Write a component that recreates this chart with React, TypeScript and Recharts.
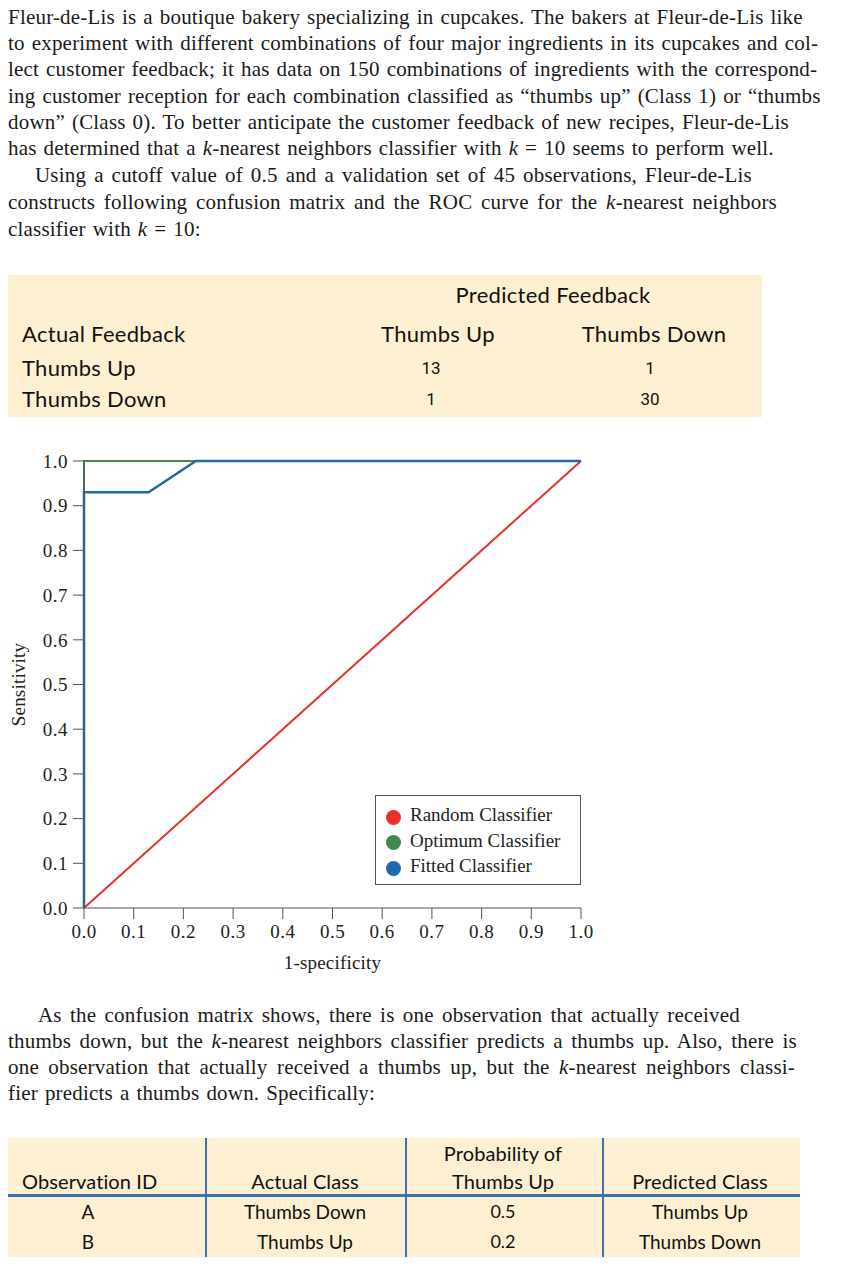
import React from 'react'
import { LineChart, Line, XAxis, YAxis, Legend } from 'recharts'

// ROC curves (x = 1-specificity, y = sensitivity)
const randomX = [0, 1]
const randomY = [0, 1]
const optimumX = [0, 0, 1]
const optimumY = [0, 1, 1]
const fittedX = [0, 0, 0.13, 0.225, 1]
const fittedY = [0, 0.93, 0.93, 1, 1]
const axisTicks = [0, 0.1, 0.2, 0.3, 0.4, 0.5, 0.6, 0.7, 0.8, 0.9, 1]
const legendOrder = ['Random Classifier', 'Optimum Classifier', 'Fitted Classifier']

const toPoints = (xs: number[], ys: number[]) => xs.map((x, i) => ({ x, y: ys[i] }))

// confusion matrix
const matrixCols = ['Thumbs Up', 'Thumbs Down']
const matrixRows = ['Thumbs Up', 'Thumbs Down']
const matrixValues = [
  [13, 1],
  [1, 30],
]

// misclassified observations
const obsIds = ['A', 'B']
const obsActual = ['Thumbs Down', 'Thumbs Up']
const obsProb = ['0.5', '0.2']
const obsPredicted = ['Thumbs Up', 'Thumbs Down']

const SERIF = '"Liberation Serif", "Times New Roman", serif'
const SANS = 'Lato, "Open Sans", sans-serif'
const CREAM = '#fdf0d2'
const RULE = '#3a74b0'

const k = <i>k</i>

// [left, right, centerY, justify, content]
const introLines: [number, number, number, boolean, React.ReactNode][] = [
  [8, 781, 17, true, <>Fleur-de-Lis is a boutique bakery specializing in cupcakes. The bakers at Fleur-de-Lis like</>],
  [8, 797, 43, true, <>to experiment with different combinations of four major ingredients in its cupcakes and col-</>],
  [8, 800, 69, true, <>lect customer feedback; it has data on 150 combinations of ingredients with the correspond-</>],
  [8, 799, 96, true, <>ing customer reception for each combination classified as “thumbs up” (Class 1) or “thumbs</>],
  [8, 767, 122, true, <>down” (Class 0). To better anticipate the customer feedback of new recipes, Fleur-de-Lis</>],
  [8, 758, 148, true, <>has determined that a {k}-nearest neighbors classifier with {k} = 10 seems to perform well.</>],
  [35, 752, 175, true, <>Using a cutoff value of 0.5 and a validation set of 45 observations, Fleur-de-Lis</>],
  [8, 777, 202, true, <>constructs following confusion matrix and the ROC curve for the {k}-nearest neighbors</>],
  [8, 0, 229, false, <>classifier with {k} = 10:</>],
]

const afterLines: [number, number, number, boolean, React.ReactNode][] = [
  [38, 740, 1015, true, <>As the confusion matrix shows, there is one observation that actually received</>],
  [8, 797, 1041, true, <>thumbs down, but the {k}-nearest neighbors classifier predicts a thumbs up. Also, there is</>],
  [8, 795, 1067, true, <>one observation that actually received a thumbs up, but the {k}-nearest neighbors classi-</>],
  [8, 0, 1093, false, <>fier predicts a thumbs down. Specifically:</>],
]

function TextLine({ line }: { line: [number, number, number, boolean, React.ReactNode] }) {
  const [left, right, cy, justify, content] = line
  return (
    <div
      style={{
        position: 'absolute',
        left,
        top: cy,
        transform: 'translateY(-50%)',
        width: justify ? right - left : undefined,
        whiteSpace: 'nowrap',
        fontFamily: SERIF,
        fontSize: 21,
        letterSpacing: 0.2,
        wordSpacing: 1.5,
        lineHeight: '21px',
        color: '#1a1a1a',
        textAlign: 'justify',
        textAlignLast: justify ? 'justify' : 'left',
      }}
    >
      {content}
    </div>
  )
}

function Cell({
  x,
  y,
  center,
  size = 22,
  children,
  family = SANS,
  spacing = 0.3,
}: {
  x: number
  y: number
  center?: boolean
  size?: number
  children: React.ReactNode
  family?: string
  spacing?: number
}) {
  return (
    <div
      style={{
        position: 'absolute',
        left: x,
        top: y,
        transform: center ? 'translate(-50%, -50%)' : 'translateY(-50%)',
        fontFamily: family,
        fontSize: size,
        letterSpacing: spacing,
        lineHeight: 1,
        whiteSpace: 'nowrap',
        color: '#111',
      }}
    >
      {children}
    </div>
  )
}

function ConfusionMatrix() {
  const colX = [438, 654]
  const numX = [431, 650]
  const rowY = [368, 399]
  return (
    <>
      <div style={{ position: 'absolute', left: 8, top: 275, width: 754, height: 142, background: CREAM }} />
      <Cell x={553} y={295} center>Predicted Feedback</Cell>
      <Cell x={22} y={334}>Actual Feedback</Cell>
      {matrixCols.map((c, i) => (
        <Cell key={c} x={colX[i]} y={334} center>
          {c}
        </Cell>
      ))}
      {matrixRows.map((r, ri) => (
        <React.Fragment key={r}>
          <Cell x={22} y={rowY[ri]}>{r}</Cell>
          {matrixValues[ri].map((v, ci) => (
            <Cell key={ci} x={numX[ci]} y={rowY[ri]} center size={17} spacing={0} family="Roboto, sans-serif">
              {v}
            </Cell>
          ))}
        </React.Fragment>
      ))}
    </>
  )
}

function ObservationTable() {
  const rowY = [1211, 1241]
  const cols = [88, 305, 503, 700]
  return (
    <>
      <div style={{ position: 'absolute', left: 8, top: 1138, width: 792, height: 119, background: CREAM }} />
      {[206, 406, 603].map((x) => (
        <div key={x} style={{ position: 'absolute', left: x - 1, top: 1138, width: 2, height: 119, background: RULE }} />
      ))}
      <div style={{ position: 'absolute', left: 8, top: 1194, width: 792, height: 3, background: RULE }} />
      <Cell x={22} y={1181} size={20} spacing={0.1}>Observation ID</Cell>
      <Cell x={cols[1]} y={1181} size={20} spacing={0.1} center>Actual Class</Cell>
      <Cell x={cols[2]} y={1153} size={20} spacing={0.1} center>Probability of</Cell>
      <Cell x={cols[2]} y={1181} size={20} spacing={0.1} center>Thumbs Up</Cell>
      <Cell x={cols[3]} y={1181} size={20} spacing={0.1} center>Predicted Class</Cell>
      {obsIds.map((id, i) => (
        <React.Fragment key={id}>
          <Cell x={cols[0]} y={rowY[i]} size={19} spacing={0} center>{id}</Cell>
          <Cell x={cols[1]} y={rowY[i]} size={19} spacing={0} center>{obsActual[i]}</Cell>
          <Cell x={cols[2]} y={rowY[i]} size={18} spacing={0} center>{obsProb[i]}</Cell>
          <Cell x={cols[3]} y={rowY[i]} size={19} spacing={0} center>{obsPredicted[i]}</Cell>
        </React.Fragment>
      ))}
    </>
  )
}

const tickStyle = { fontSize: 19, fill: '#222', fontFamily: SERIF, letterSpacing: 0.5 }

function RocChart() {
  return (
    <div style={{ position: 'absolute', left: 0, top: 440 }}>
      <LineChart width={600} height={540} margin={{ top: 21, right: 19, bottom: 12, left: 0 }}>
        <XAxis
          type="number"
          dataKey="x"
          domain={[0, 1]}
          ticks={axisTicks}
          tickFormatter={(v) => v.toFixed(1)}
          tick={tickStyle}
          tickSize={11}
          tickMargin={6}
          stroke="#555"
          height={60}
          label={{
            value: '1-specificity',
            position: 'insideBottom',
            offset: -1,
            style: { ...tickStyle, fontSize: 19, letterSpacing: 0.2 },
          }}
        />
        <YAxis
          type="number"
          dataKey="y"
          domain={[0, 1]}
          ticks={axisTicks}
          tickFormatter={(v) => v.toFixed(1)}
          tick={tickStyle}
          tickSize={11}
          tickMargin={5}
          stroke="#555"
          width={84}
          label={{
            value: 'Sensitivity',
            angle: -90,
            position: 'insideLeft',
            offset: 18,
            style: { ...tickStyle, fontSize: 19, letterSpacing: 0.2, textAnchor: 'middle' },
          }}
        />
        <Legend
          layout="vertical"
          align="center"
          verticalAlign="middle"
          iconType="circle"
          iconSize={15}
          itemSorter={(item) => legendOrder.indexOf(String(item.value))}
          formatter={(value) => (
            <span style={{ color: '#222', fontFamily: SERIF, fontSize: 19, paddingLeft: 5 }}>{value}</span>
          )}
          wrapperStyle={{
            left: 375,
            top: 355,
            width: 206,
            height: 90,
            boxSizing: 'border-box',
            border: '1px solid #555',
            background: '#fff',
            padding: '7px 0 0 10px',
            lineHeight: '24.5px',
          }}
        />
        <Line
          data={toPoints(randomX, randomY)}
          dataKey="y"
          name="Random Classifier"
          stroke="#e8312c"
          strokeWidth={2}
          dot={false}
          isAnimationActive={false}
        />
        <Line
          data={toPoints(optimumX, optimumY)}
          dataKey="y"
          name="Optimum Classifier"
          stroke="#3d8b46"
          strokeWidth={2}
          dot={false}
          isAnimationActive={false}
        />
        <Line
          data={toPoints(fittedX, fittedY)}
          dataKey="y"
          name="Fitted Classifier"
          stroke="#1f6aab"
          strokeWidth={2.5}
          dot={false}
          isAnimationActive={false}
        />
      </LineChart>
    </div>
  )
}

export default function App() {
  return (
    <div style={{ position: 'absolute', left: 0, top: 0, width: 846, height: 1275, background: '#fff' }}>
      {introLines.map((l, i) => (
        <TextLine key={i} line={l} />
      ))}
      <ConfusionMatrix />
      <RocChart />
      {afterLines.map((l, i) => (
        <TextLine key={i} line={l} />
      ))}
      <ObservationTable />
    </div>
  )
}
